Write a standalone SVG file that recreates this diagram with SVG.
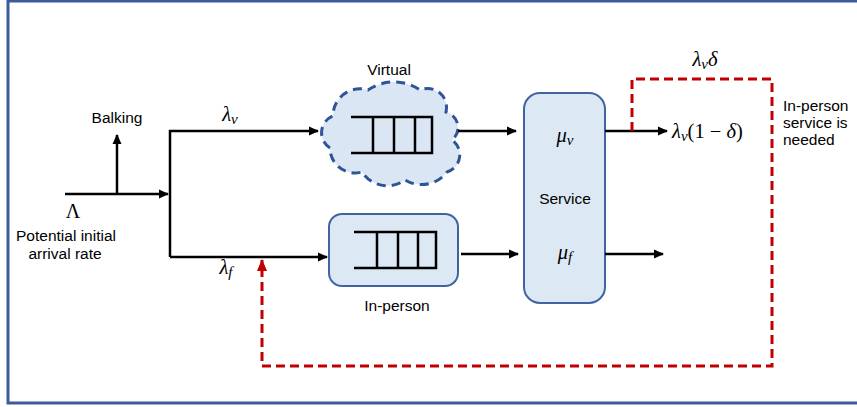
<svg xmlns="http://www.w3.org/2000/svg" width="857" height="407" viewBox="0 0 857 407">
<defs>
<marker id="ah" markerUnits="userSpaceOnUse" markerWidth="10" markerHeight="10" viewBox="0 0 10 10" refX="9" refY="5" orient="auto"><path d="M0,0.5 L10,5 L0,9.5 Z" fill="#000"/></marker>
<marker id="ahr" markerUnits="userSpaceOnUse" markerWidth="12" markerHeight="10" viewBox="0 0 12 10" refX="11" refY="5" orient="auto"><path d="M0,0 L12,5 L0,10 Z" fill="#c00000"/></marker>
<style>
.ln{stroke:#000;stroke-width:2.5;fill:none}
.q{stroke:#000;stroke-width:2.5;fill:none}
.box{fill:#dde8f5;stroke:#3f64a0;stroke-width:2}
.red{stroke:#c00000;stroke-width:3;fill:none;stroke-dasharray:9 5}
.t{font-family:"Liberation Sans",Arial,sans-serif;font-size:15.5px;fill:#000}
.m{font-family:"Liberation Serif","DejaVu Serif",serif;font-style:italic;font-size:20.5px;fill:#000}
.mu{font-family:"Liberation Serif","DejaVu Serif",serif;font-size:20px;fill:#000}
.s{font-size:15px}
</style>
</defs>
<rect x="8" y="1" width="860" height="402" fill="#fff" stroke="#3a5c98" stroke-width="3"/>

<g id="virtual">
<path d="M330,148 A18 18 0 0 1 333,116 A27 27 0 0 1 368,90 A46 46 0 0 1 420,90 A19 19 0 0 1 446,112 A16 16 0 0 1 452,140 A18 18 0 0 1 447,172 A32 32 0 0 1 405,180 A30 30 0 0 1 362,172 A25 25 0 0 1 330,148 Z" fill="#dae6f4" stroke="#2f5597" stroke-width="3" stroke-dasharray="9 6"/>
<path class="q" d="M351,117 H432 V153 H351 M373,117 V153 M394,117 V153 M415,117 V153"/>
<text class="t" x="389" y="75" text-anchor="middle">Virtual</text>
</g>

<g id="inperson">
<rect class="box" x="329" y="214" width="129" height="72" rx="13"/>
<path class="q" d="M354,232 H436 V268 H354 M377,232 V268 M398,232 V268 M418,232 V268"/>
<text class="t" x="397" y="311" text-anchor="middle">In-person</text>
</g>

<g id="service">
<rect class="box" x="524" y="93" width="81" height="210" rx="16"/>
<text class="m" x="565" y="142" text-anchor="middle">μ<tspan class="s" dy="3">v</tspan></text>
<text class="t" x="565" y="204" text-anchor="middle">Service</text>
<text class="m" x="565" y="259" text-anchor="middle">μ<tspan class="s" dy="3">f</tspan></text>
</g>

<g id="labels">
<text class="t" x="117" y="123" text-anchor="middle">Balking</text>
<text class="mu" x="73" y="218" text-anchor="middle">Λ</text>
<text class="t" x="66" y="241" text-anchor="middle">Potential initial</text>
<text class="t" x="65" y="259" text-anchor="middle">arrival rate</text>
<text class="m" x="230" y="121" text-anchor="middle">λ<tspan class="s" dy="3">v</tspan></text>
<text class="m" x="226" y="274" text-anchor="middle">λ<tspan class="s" dy="3">f</tspan></text>
<text class="m" x="705" y="66" text-anchor="middle">λ<tspan class="s" dy="3">v</tspan><tspan dy="-3">δ</tspan></text>
<text class="m" x="672" y="138">λ<tspan class="s" dy="3">v</tspan><tspan dy="-3" font-style="normal">(1 − </tspan><tspan>δ</tspan><tspan font-style="normal">)</tspan></text>
<text class="t" x="783" y="111">In-person</text>
<text class="t" x="783" y="128">service is</text>
<text class="t" x="783" y="145">needed</text>
</g>

<g id="connectors">
<path class="ln" d="M65,194 H168" marker-end="url(#ah)"/>
<path class="ln" d="M117,194 V135" marker-end="url(#ah)"/>
<path class="ln" d="M170,257 V131 H318" marker-end="url(#ah)"/>
<path class="ln" d="M170,257 H327" marker-end="url(#ah)"/>
<path class="ln" d="M458,131 H516" marker-end="url(#ah)"/>
<path class="ln" d="M461,254 H518" marker-end="url(#ah)"/>
<path class="ln" d="M605,131 H667" marker-end="url(#ah)"/>
<path class="ln" d="M605,254 H663" marker-end="url(#ah)"/>
<path class="red" d="M632,131 V79 H772 V366 H262 V260" marker-end="url(#ahr)"/>
</g>
</svg>
